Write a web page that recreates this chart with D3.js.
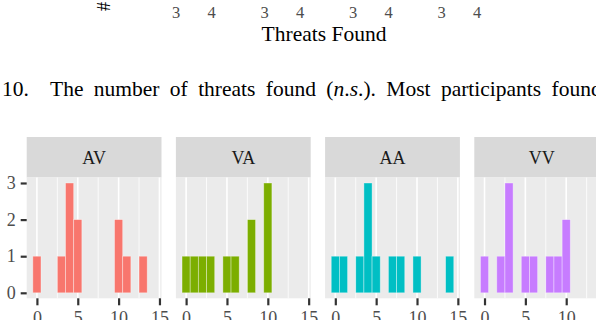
<!DOCTYPE html>
<html>
<head>
<meta charset="utf-8">
<script src="https://cdn.jsdelivr.net/npm/d3@7"></script>
<style>
body { margin: 0; background: #fff; }
svg { display: block; }
text { font-family: "Liberation Serif", "Times New Roman", serif; }
</style>
</head>
<body>
<div id="chart"></div>
<script>
// facets and their fill colours
var groups = ["AV", "VA", "AA", "VV"];
var colors = ["#F8766D", "#7CAE00", "#00BFC4", "#C77CFF"];

// number of threats found (histogram bins, width 1)
var threats = [0, 1, 2, 3, 4, 5, 6, 7, 8, 9, 10, 11, 12, 13, 14];
// participants per bin, one list per facet
var countsAV = [1, 0, 0, 1, 3, 2, 0, 0, 0, 0, 2, 1, 0, 1, 0];
var countsVA = [1, 1, 1, 1, 0, 1, 1, 0, 2, 0, 3, 0, 0, 0, 0];
var countsAA = [1, 1, 0, 1, 3, 1, 0, 1, 1, 0, 1, 0, 0, 0, 1];
var countsVV = [1, 0, 1, 3, 0, 1, 1, 0, 1, 1, 2, 0, 0, 0, 0];

// tick labels
var xTicks = [0, 5, 10, 15];
var xMinor = [2.5, 7.5, 12.5];
var yTicks = [0, 1, 2, 3];
// leftover tick labels of the figure above (cut off by the page crop)
var prevTicks = [3, 4];

var w = 596, h = 320;
var svg = d3.select("#chart").append("svg")
    .attr("width", w)
    .attr("height", h);

var allCounts = [countsAV, countsVA, countsAA, countsVV];

// ---- remains of the previous figure at the top ----
var prevPanel = d3.scalePoint().domain(groups).range([176, 441.5]);
var prevX = d3.scaleLinear().domain([3, 4]).range([0, 35.5]);

svg.append("text")
    .attr("transform", "translate(110,11) rotate(-90)")
    .attr("font-size", 18)
    .attr("fill", "#000")
    .text("#");

groups.forEach(function(g) {
  svg.append("g").selectAll("text")
    .data(prevTicks)
    .enter().append("text")
    .attr("x", function(d) { return prevPanel(g) + prevX(d); })
    .attr("y", 17.5)
    .attr("text-anchor", "middle")
    .attr("font-size", 16.5)
    .attr("fill", "#4d4d4d")
    .text(function(d) { return d; });
});

svg.append("text")
    .attr("x", 324)
    .attr("y", 41)
    .attr("text-anchor", "middle")
    .attr("font-size", 21.5)
    .attr("fill", "#000")
    .text("Threats Found");

// caption (justified in the paper, hence the wide word spacing)
svg.append("text")
    .attr("x", 2)
    .attr("y", 96)
    .attr("font-size", 21.5)
    .attr("fill", "#000")
    .text("10.");

var cap = svg.append("text")
    .attr("x", 50)
    .attr("y", 96)
    .attr("font-size", 21.5)
    .attr("word-spacing", 5)
    .attr("fill", "#000");
cap.append("tspan").text("The number of threats found (");
cap.append("tspan").attr("font-style", "italic").text("n");
cap.append("tspan").text(".");
cap.append("tspan").attr("font-style", "italic").text("s");
cap.append("tspan").text(".). Most participants found");

// ---- faceted histogram ----
var stripTop = 137, stripBot = 177.5, plotBot = 298.3;

var panel = d3.scaleBand()
    .domain(groups)
    .range([26.7, 609.1])
    .paddingInner(0.0965)
    .paddingOuter(0);

var y = d3.scaleLinear()
    .domain([-0.15, 3.15])
    .range([plotBot, stripBot]);

groups.forEach(function(g, gi) {
  var left = panel(g);
  var bw = panel.bandwidth();
  var x = d3.scaleLinear().domain([-1.25, 15.25]).range([left, left + bw]);

  // strip
  svg.append("rect")
      .attr("x", left).attr("y", stripTop)
      .attr("width", bw).attr("height", stripBot - stripTop)
      .attr("fill", "#d9d9d9");
  svg.append("text")
      .attr("x", left + bw / 2)
      .attr("y", 164)
      .attr("text-anchor", "middle")
      .attr("font-size", 18)
      .attr("fill", "#1a1a1a")
      .text(g);

  // panel background
  svg.append("rect")
      .attr("x", left).attr("y", stripBot)
      .attr("width", bw).attr("height", plotBot - stripBot)
      .attr("fill", "#ebebeb");

  // vertical grid lines
  svg.append("g").selectAll("line.minor")
    .data(xMinor).enter().append("line")
    .attr("x1", function(d) { return x(d); })
    .attr("x2", function(d) { return x(d); })
    .attr("y1", stripBot).attr("y2", plotBot)
    .attr("stroke", "#fff").attr("stroke-width", 0.8);
  svg.append("g").selectAll("line.major")
    .data(xTicks).enter().append("line")
    .attr("x1", function(d) { return x(d); })
    .attr("x2", function(d) { return x(d); })
    .attr("y1", stripBot).attr("y2", plotBot)
    .attr("stroke", "#fff").attr("stroke-width", 1.6);

  // bars
  var bins = threats.map(function(t, i) { return {key: t, value: allCounts[gi][i]}; })
      .filter(function(d) { return d.value > 0; });
  svg.append("g").selectAll("rect")
    .data(bins).enter().append("rect")
    .attr("x", function(d) { return x(d.key - 0.5); })
    .attr("width", function(d) { return x(d.key + 0.5) - x(d.key - 0.5); })
    .attr("y", function(d) { return y(d.value); })
    .attr("height", function(d) { return y(0) - y(d.value); })
    .style("fill", colors[gi])
    .style("stroke", "rgba(255,255,255,0.45)")
    .style("stroke-width", 0.8);

  // x axis
  var xa = svg.append("g")
      .attr("class", "x axis")
      .attr("transform", "translate(0," + plotBot + ")")
      .call(d3.axisBottom(x).tickValues(xTicks).tickFormat(d3.format("d")).tickSize(7).tickPadding(6));
  xa.select(".domain").remove();
  xa.selectAll("line").attr("stroke", "#333").attr("stroke-width", 2.2);
  xa.selectAll("text")
      .attr("font-family", "Liberation Serif, serif")
      .attr("font-size", 18)
      .attr("fill", "#4d4d4d");
});

// y axis on the first panel
var ya = svg.append("g")
    .attr("class", "y axis")
    .attr("transform", "translate(" + panel(groups[0]) + ",0)")
    .call(d3.axisLeft(y).tickValues(yTicks).tickFormat(d3.format("d")).tickSize(6).tickPadding(5));
ya.select(".domain").remove();
ya.selectAll("line").attr("stroke", "#333").attr("stroke-width", 2.2);
ya.selectAll("text")
    .attr("font-family", "Liberation Serif, serif")
    .attr("font-size", 18)
    .attr("fill", "#4d4d4d");
</script>
</body>
</html>
